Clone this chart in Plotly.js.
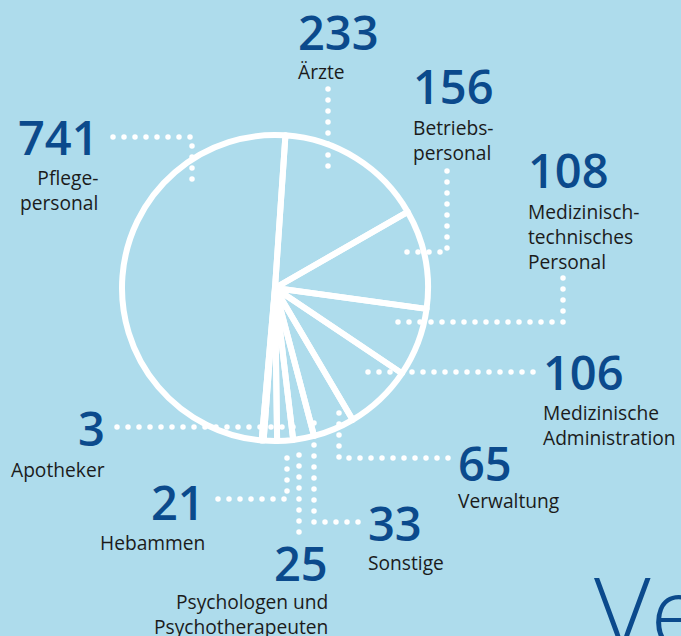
<!DOCTYPE html>
<html>
<head>
<meta charset="utf-8">
<script src="https://cdn.plot.ly/plotly-3.0.1.min.js"></script>
<style>
html,body{margin:0;padding:0;background:#aedcec;overflow:hidden;}
#chart{width:681px;height:636px;}
.shapelayer path{stroke-linecap:round;}
</style>
</head>
<body>
<div id="chart"></div>
<script>
// ---- data ----
const categories = ['Pflegepersonal','Ärzte','Betriebspersonal','Medizinisch-technisches Personal','Medizinische Administration','Verwaltung','Sonstige','Psychologen und Psychotherapeuten','Hebammen','Apotheker'];
const values = [741,233,156,108,106,65,33,25,21,3];
const labelTexts = ['Pflege-<br>personal','Ärzte','Betriebs-<br>personal','Medizinisch-<br>technisches<br>Personal','Medizinische<br>Administration','Verwaltung','Sonstige','Psychologen und<br>Psychotherapeuten','Hebammen','Apotheker'];
const cornerText = 'Ve';

// ---- layout (pixel positions) ----
const W = 681, H = 636;
const BG = '#aedcec', NUMC = '#0b4a8c', TXTC = '#1b1b1b';
const px = x => x / W, py = y => 1 - y / H;

// [anchor, numX, numY, labX, labY]
const place = [
  ['right',100,137, 99,190],
  ['left', 297,32, 297,72],
  ['left', 412,86, 412,140],
  ['left', 527,170, 527,237],
  ['left', 542,372, 542,425],
  ['left', 457,463, 457,500],
  ['left', 367,523, 367,562],
  ['right',329,563, 329,614],
  ['right',206,502, 206,542],
  ['right',106,428, 106,469]
];
const leaders = [
  [[113,137],[192,137],[192,190]],
  [[328,89],[328,175]],
  [[447,171],[447,252],[397,252]],
  [[563,278],[563,322],[395,322]],
  [[533,372],[367,372]],
  [[448,458],[339,458],[339,403]],
  [[358,522],[314,522],[314,419]],
  [[299,532],[299,448]],
  [[218,499],[287,499],[287,447]],
  [[117,427],[296,427]]
];

const cx = 275, cy = 288, R = 153;

const annotations = [];
categories.forEach((c, i) => {
  const p = place[i];
  annotations.push({
    xref:'paper', yref:'paper', x:px(p[1]), y:py(p[2]), xanchor:p[0], yanchor:'middle',
    text:String(values[i]), showarrow:false, borderpad:0,
    font:{family:'Open Sans, sans-serif', size:47, color:NUMC, weight:600}
  });
  annotations.push({
    xref:'paper', yref:'paper', x:px(p[3]), y:py(p[4]), xanchor:p[0], yanchor:'middle', align:p[0],
    text:labelTexts[i], showarrow:false, borderpad:0,
    font:{family:'Open Sans, sans-serif', size:19.2, color:TXTC}
  });
});
annotations.push({
  xref:'paper', yref:'paper', x:px(593), y:py(610), xanchor:'left', yanchor:'middle',
  text:cornerText, showarrow:false, borderpad:0,
  font:{family:'Open Sans, sans-serif', size:98, color:NUMC, weight:300}
});

const shapes = leaders.map(pts => ({
  type:'path', xref:'paper', yref:'paper', layer:'below',
  path: pts.map((q, k) => (k ? 'L' : 'M') + px(q[0]) + ',' + py(q[1])).join(' '),
  line:{color:'#ffffff', width:5.5, dash:'0px,11px'}
}));

const trace = {
  type:'pie', labels:categories, values:values, sort:false, direction:'clockwise',
  rotation:185, textinfo:'none', hoverinfo:'none', showlegend:false,
  marker:{colors:categories.map(() => 'rgba(0,0,0,0)'), line:{color:'#ffffff', width:6}},
  domain:{x:[px(cx - R), px(cx + R)], y:[py(cy + R), py(cy - R)]}
};

Plotly.newPlot('chart', [trace], {
  width:W, height:H, margin:{l:0,r:0,t:0,b:0},
  paper_bgcolor:BG, plot_bgcolor:BG,
  annotations:annotations, shapes:shapes
}, {displayModeBar:false, staticPlot:true});
</script>
</body>
</html>
